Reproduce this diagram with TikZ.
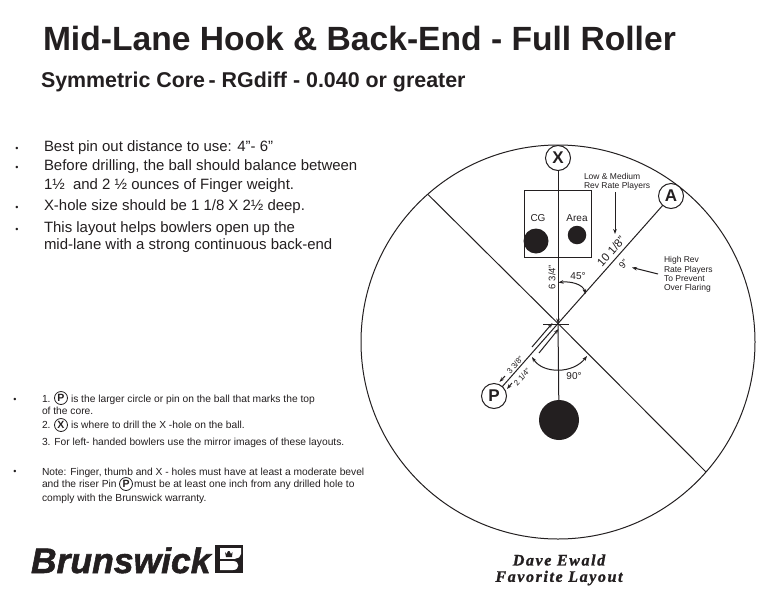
\documentclass[tikz,border=0pt]{standalone}
\usepackage{fontspec}
\usetikzlibrary{arrows.meta}
\setmainfont{Liberation Sans}
\newfontfamily\sigfont[LetterSpace=10,BoldItalicFeatures={FakeBold=1.2}]{Liberation Serif}
\newfontfamily\brandfont[BoldItalicFeatures={FakeBold=1.5}]{Liberation Sans}
\definecolor{ink}{HTML}{231F20}
\newcommand{\fs}[1]{\fontsize{#1}{#1}\selectfont}
\tikzset{
  x=1pt,y=-1pt,
  every node/.style={text=ink,inner sep=0pt,outer sep=0pt},
  txt/.style={anchor=base west,font=\fs{14.95}},
  small/.style={anchor=base west,font=\fs{10.25}},
  tiny/.style={anchor=base west,font=\fs{8.5}},
  dim/.style={font=\fs{9.5}},
  pin/.style={circle,draw=ink,line width=1pt,fill=white,minimum size=25pt,font=\bfseries\fs{17}},
  minipin/.style={circle,draw=ink,line width=.8pt,fill=white,minimum size=13pt,font=\bfseries\fs{10.5}},
  ln/.style={draw=ink,line width=1pt},
  ar/.style={ln,-{Stealth[length=5pt,width=3.6pt]}},
  arr/.style={ln,{Stealth[length=5pt,width=3.6pt]}-{Stealth[length=5pt,width=3.6pt]}},
  hole/.style={circle,fill=ink,draw=none},
  bul/.style={anchor=center,font=\fs{9}},
}
\begin{document}
\begin{tikzpicture}
\useasboundingbox (0,0) rectangle (781,600);
\fill[white] (0,0) rectangle (781,600);
% titles
\node[anchor=base west,font=\bfseries\fs{33.6}] (title) at (43,50) {Mid-Lane Hook \& Back-End - Full Roller};
\node[anchor=base west,font=\bfseries\fs{21.4}] (sub) at (41,87) {Symmetric Core\,- RGdiff - 0.040 or greater};
% bullets
\node[bul] (b1) at (17,149) {•};
\node[bul] (b2) at (17,168) {•};
\node[bul] (b3) at (17,208) {•};
\node[bul] (b4) at (17,230) {•};
\node[txt] (t1) at (44,151) {Best pin out distance to use: 4”- 6”};
\node[txt] (t2) at (44,170) {Before drilling, the ball should balance between};
\node[txt] (t3) at (44,189) {1½\ \ and 2 ½ ounces of Finger weight.};
\node[txt] (t4) at (44,210) {X-hole size should be 1 1/8 X 2½ deep.};
\node[txt] (t5) at (44,232) {This layout helps bowlers open up the};
\node[txt] (t6) at (44,249) {mid-lane with a strong continuous back-end};
% notes
\node[bul] (b5) at (15,400) {•};
\node[bul] (b6) at (15,472) {•};
\node[small] (n1a) at (42,402) {1.};
\node[minipin] (n1p) at (61,398) {P};
\node[small] (n1b) at (71,402) {is the larger circle or pin on the ball that marks the top};
\node[small] (n1c) at (42,414) {of the core.};
\node[small] (n2a) at (42,428.5) {2.};
\node[minipin] (n2p) at (61,425) {X};
\node[small] (n2b) at (71,428.5) {is where to drill the X -hole on the ball.};
\node[small] (n3) at (42,445) {3. For left- handed bowlers use the mirror images of these layouts.};
\node[small] (n4) at (42,475) {Note: Finger, thumb and X - holes must have at least a moderate bevel};
\node[small] (n5a) at (42,487.5) {and the riser Pin};
\node[minipin] (n5p) at (126,484) {P};
\node[small] (n5b) at (134,487.5) {must be at least one inch from any drilled hole to};
\node[small] (n6) at (42,501.5) {comply with the Brunswick warranty.};
% ball
\node[circle,draw=ink,line width=1pt,minimum size=394pt] (ball) at (558,342) {};
\coordinate (c) at (558,323.5);
\coordinate (nw) at (428,194.5);
\coordinate (se) at (706,472);
\coordinate (hl) at (543,324);
\coordinate (hr) at (569,324);
\draw[ln] (nw) -- (c) -- (se);
\draw[ln] (hl) -- (hr);
% box and holes
\node[draw=ink,line width=1pt,minimum width=67pt,minimum height=67pt] (box) at (558,223.5) {};
\node[anchor=center,font=\fs{10}] (cg) at (538,218) {CG};
\node[anchor=center,font=\fs{10}] (area) at (577,218) {Area};
\node[hole,minimum size=25pt] (h1) at (536,241) {};
\node[hole,minimum size=18.5pt] (h2) at (577,235) {};
\node[hole,minimum size=40pt] (h3) at (559,420) {};
% pins
\node[pin] (X) at (558,158) {X};
\node[pin] (A) at (671,196) {A};
\node[pin] (P) at (494,396) {P};
\draw[ar] (X) -- (c);
\draw[ln] (c) -- (h3);
\draw[ln] (A) -- (c) -- (P);
% 45 and 90 degree arcs
\coordinate (a45a) at (558.5,282.5);
\coordinate (a45b) at (585.5,294);
\draw[arr] (a45a) .. controls (570,281) and (583,284) .. (a45b);
\coordinate (a90a) at (532,357);
\coordinate (a90b) at (587,356);
\draw[arr] (a90a) .. controls (543,374) and (573,374) .. (a90b);
\node[font=\fs{10}] (l45) at (578,276) {45°};
\node[font=\fs{10}] (l90) at (574,376) {90°};
% dimensions
\node[dim,rotate=90] (d634) at (552,277) {6 3/4"};
\node[font=\fs{11.5},rotate=48] (d10) at (611,251.5) {10 1/8"};
\node[dim,rotate=48] (d9) at (623.5,264) {9"};
\node[font=\fs{8},rotate=49] (d338) at (515,365) {3 3/8"};
\node[font=\fs{8},rotate=49] (d214) at (522,377) {2 1/4"};
\coordinate (u1) at (552.5,323); \coordinate (u2) at (532,347);
\coordinate (u3) at (505,376); \coordinate (u4) at (499.5,382);
\coordinate (v1) at (558.5,329); \coordinate (v2) at (539,353);
\coordinate (v3) at (512,383); \coordinate (v4) at (507,389);
\draw[ar] (u2) -- (u1);
\draw[ar] (u3) -- (u4);
\draw[ar] (v2) -- (v1);
\draw[ar] (v3) -- (v4);
% callouts
\node[tiny] (lm1) at (584,179) {Low \& Medium};
\node[tiny] (lm2) at (584,188) {Rev Rate Players};
\node[tiny] (hr1) at (664,262.5) {High Rev};
\node[tiny] (hr2) at (664,272) {Rate Players};
\node[tiny] (hr3) at (664,281) {To Prevent};
\node[tiny] (hr4) at (664,290.5) {Over Flaring};
\coordinate (lmt) at (615,192); \coordinate (lmh) at (615,234);
\coordinate (hrt) at (658,274); \coordinate (hrh) at (632,267.5);
\draw[ar] (lmt) -- (lmh);
\draw[ar] (hrt) -- (hrh);
% logo
\node[anchor=base west,font=\brandfont\bfseries\itshape\fs{35.5}] (brand) at (31,573) {Brunswick};
\node[draw=none,fill=ink,minimum width=28pt,minimum height=28pt] (logo) at (229,559) {};
\fill[white] (220,548) -- (241,548) -- (241,554) .. controls (241,557) and (238,558.5) .. (235,558.8) -- (220,558.8) -- cycle;
\fill[white] (220,561) -- (233,561) .. controls (240,561) and (240,570) .. (233,570) -- (220,570) -- cycle;
\fill[ink] (225,552) -- (226.5,554) -- (228,551) -- (229.5,551) -- (231,554) -- (232.5,552) -- (232,557) -- (226,557) -- cycle;
% signature
\node[anchor=center,font=\sigfont\bfseries\itshape\fs{16}] (s1) at (559,560) {Dave Ewald};
\node[anchor=center,font=\sigfont\bfseries\itshape\fs{16}] (s2) at (559,578) {Favorite Layout};
\end{tikzpicture}
\end{document}
